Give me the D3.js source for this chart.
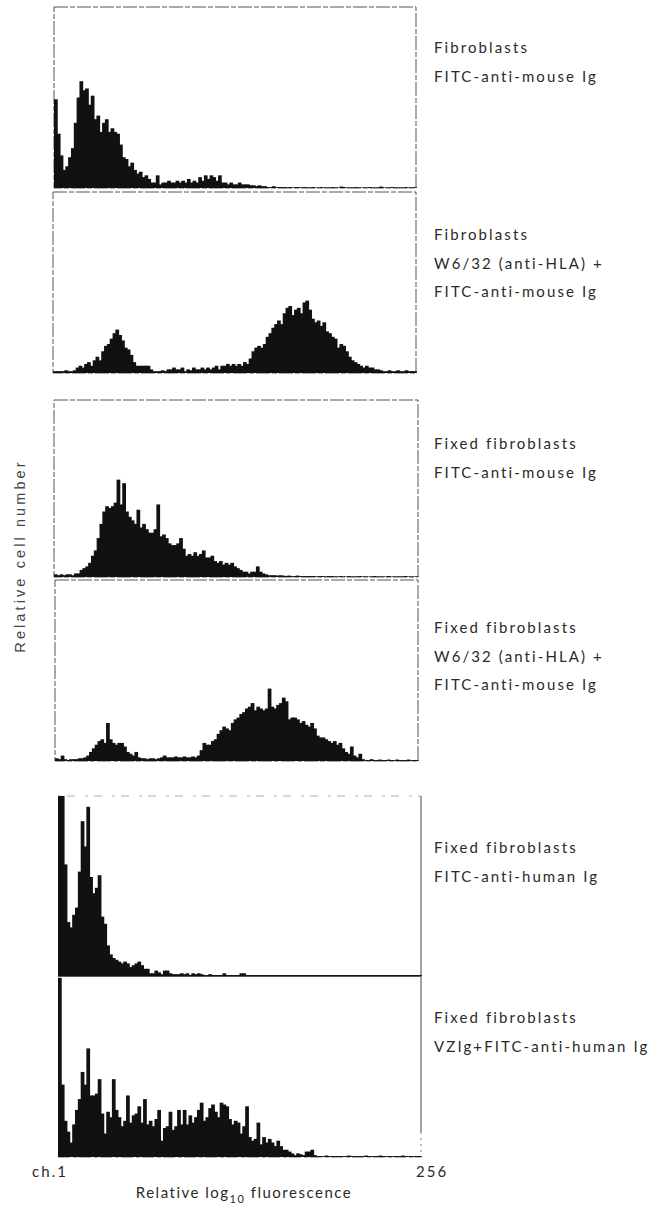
<!DOCTYPE html>
<html>
<head>
<meta charset="utf-8">
<script src="https://cdn.jsdelivr.net/npm/d3@7"></script>
<style>
  body { margin: 0; background: #fff; }
  svg { display: block; }
  .lab { font-family: Lato, 'Open Sans', sans-serif; font-weight: 400; font-size: 15px; letter-spacing: 2.1px; fill: #2a2a2a; }
  .ytitle { font-family: 'Liberation Sans', Arial, sans-serif; font-size: 14.5px; letter-spacing: 3.1px; fill: #444; }
</style>
</head>
<body>
<svg width="663" height="1207"></svg>
<script>
// 128 bins, each bin = 2 channels of the 256 channel analyser
// values are % of full scale of the panel
const fibroCtrl = [
  49,30,18,10,12,17,22,36,50,59, 54,55,46,51,38,40,31,36,38,31,
  33,31,30,24,17,16,12,14,10,8, 9,6,7,5,3,3,7,2,
  3,3,4,3,3,4,3,4,3,5,3,4,3,
  6,4,7,5,7,6,4,7,
  3,3,2,3,2,2,3,2,2,2,
  1.5,1.5,1,1.5,1,1,0.5,0.5,1,0.5,
  0.5,0.5,0.5,0.3,0.5,0.3,0.5,0.5,0.3,0.5, 0.3,0.3,0.5,0.3,0.3,0.5,0.3,0.3,0.3,0.5,
  0.3,0.3,0.8,0.5,0.3,0.3,0.3,0.5,0.3,0.3, 0.3,0.3,0.5,0.3,0.3,0.3,0.8,0.3,0.3,0.3,
  0.5,0.3,0.3,0.3,0.3,0.5,0.3,0.3,0.5
]
const fibroHLA = [
  1,1,1,1,1.5,1,1,1.5,3,4, 3,5,6,4,7,9,7,12,15,16,
  19,22,24,21,18,14,13,10,6,4, 4,4,4,4,2,1,1,1,1.5,1,
  2,2,3,2,2,3,1,2,1.5,3, 2,2,3,2,3,2,3,4,2,4,
  4,5,4,5,4,5,4,6,5,8, 12,14,15,14,16,20,22,25,27,29,
  27,33,36,37,32,35,36,33,39,40, 35,30,28,29,26,28,23,22,20,19,
  14,16,15,12,9,7,6,5,4,3, 4,3,3,2,2,1.5,1,1,1.5,1,
  1,1.5,1,1,1.5,1,1,1
]
const fixedCtrl = [
  1.5,1,1.5,1,1.5,1.5,1,2,2,4, 5,6,8,12,15,22,30,37,40,39,
  40,42,55,41,53,37,34,32,30,38, 28,30,27,25,25,27,41,23,24,22,
  19,18,18,19,22,16,12,13,12,14, 12,13,15,11,11,12,9,8,9,7,
  8,7,8,6,5,4,3,3,2,3, 3,6,3,2,1.5,1,1,1,0.8,1,
  0.8,0.5,0.8,0.5,0.5,0.8,0.5,0.5,0.5,0.5, 0.5,0.5,0.3,0.5,0.5,0.3,0.5,0.5,0.3,0.3,
  0.5,0.3,0.3,0.5,0.3,0.3,0.3,0.5,0.3,0.3, 0.3,0.3,0.5,0.3,0.3,0.3,0.3,0.5,0.3,0.3,
  0.3,0.3,0.3,0.5,0.3,0.3,0.3,0.3
]
const fixedHLA = [
  1.5,1,3,1,0.5,1,1,1,1.5,1.5, 2,3,5,7,9,11,12,10,21,12,
  10,9,10,10,8,5,4,3,5,2, 1.5,1.5,1,1.5,1.5,1,1.5,2,3,2,
  2,2,2.5,2,2,2.5,2,2,2.5,2, 3,6,10,9,9,11,12,15,17,19,
  18,17,21,23,24,26,27,29,30,32, 28,30,29,28,29,40,30,29,31,32,
  35,33,23,24,24,23,21,22,20,19, 21,18,14,13,13,12,11,10,11,9,
  10,7,5,4,8,3,2,4,1,0.5, 0.5,1,0.5,0.5,0.8,0.5,0.5,0.8,0.5,0.5,
  0.8,0.5,0.5,0.5,0.8,0.5,0.5,0.5
]
const fixedHuman = [
  100,100,62,30,27,34,38,58,86,72, 94,55,46,49,56,33,29,17,12,10,
  9,8,7,8,7,5,6,7,8,6, 4,4,1.5,1.5,3,2,1,3,3,1.5,
  1,1,1,1.5,1,1.5,0.5,1.5,1,1.5, 1,0.5,0.5,1,0.5,0.5,0.5,0.5,1.5,0.5,
  0.5,0.5,0.5,0.5,1.5,1.5,0.5,0.5,0.5,0.5, 0.5,0.5,0.5,0.5,0.5,0.5,0.5,0.5,0.5,0.5,
  0.5,0.5,0.5,0.5,0.5,0.5,0.5,0.5,0.5,0.5, 0.5,0.5,0.5,0.5,0.5,0.5,0.5,0.5,0.5,0.5,
  0.5,0.5,0.5,0.5,0.5,0.5,0.5,0.5,0.5,0.5, 0.5,0.5,0.5,0.5,0.5,0.5,0.5,0.5,0.5,0.5,
  0.5,0.5,0.5,0.5,0.5,0.5,0.5,0.5
]
const fixedVZIg = [
  99,40,20,14,8,18,26,32,47,40, 60,34,34,35,43,24,13,25,22,43,
  26,22,17,20,34,19,23,24,28,19, 32,18,20,17,21,26,9,16,17,25,
  15,17,26,18,26,18,23,19,22,26, 30,20,22,27,29,25,22,30,29,28,
  21,18,20,19,13,17,28,11,9,10, 19,7,11,8,10,8,6,9,6,4,
  4,3,2,1,2,1.5,1,3,3,4, 1,0.5,0.5,0.5,0.8,0.5,0.5,0.5,0.5,0.5,
  0.5,0.5,0.8,0.5,0.5,0.5,0.5,0.5,0.8,0.5, 0.5,0.5,0.5,0.8,0.5,0.5,0.5,0.5,0.5,0.5,
  0.5,0.8,0.5,0.5,0.5,0.5,0.5,0.5
]

// panel captions
const captions = [
  ['Fibroblasts', 'FITC-anti-mouse Ig'],
  ['Fibroblasts', 'W6/32 (anti-HLA) +', 'FITC-anti-mouse Ig'],
  ['Fixed fibroblasts', 'FITC-anti-mouse Ig'],
  ['Fixed fibroblasts', 'W6/32 (anti-HLA) +', 'FITC-anti-mouse Ig'],
  ['Fixed fibroblasts', 'FITC-anti-human Ig'],
  ['Fixed fibroblasts', 'VZIg+FITC-anti-human Ig']
]
const xTickLabels = ['ch.1', '256']
const xTitle = ['Relative log', '10', ' fluorescence']
const yTitle = 'Relative cell number'

const series = [fibroCtrl, fibroHLA, fixedCtrl, fixedHLA, fixedHuman, fixedVZIg]

// layout of each panel: left, right, top, bottom, first caption baseline
const layout = [
  { x0: 54, x1: 416, y0: 7, y1: 188, cap: 53, frame: 'box' },
  { x0: 53, x1: 416, y0: 192, y1: 373, cap: 240, frame: 'box' },
  { x0: 54, x1: 418, y0: 400, y1: 577, cap: 449, frame: 'box' },
  { x0: 55, x1: 418, y0: 580, y1: 761, cap: 633, frame: 'box' },
  { x0: 58, x1: 421, y0: 796, y1: 976, cap: 853, frame: 'top' },
  { x0: 58, x1: 421, y0: 976, y1: 1157, cap: 1023, frame: 'bottom' }
]

const svg = d3.select('svg')
const bins = d3.range(128)

layout.forEach(function (p, i) {
  const data = series[i]
  const x = d3.scaleBand().domain(bins).range([p.x0, p.x1]).padding(0)
  const y = d3.scaleLinear().domain([0, 100]).range([p.y1, p.y0])
  const g = svg.append('g')

  // frame
  if (p.frame === 'box') {
    g.append('rect')
      .attr('x', p.x0).attr('y', p.y0)
      .attr('width', p.x1 - p.x0).attr('height', p.y1 - p.y0)
      .attr('fill', 'none').attr('stroke', '#555').attr('stroke-width', 1)
      .attr('stroke-dasharray', '14,2,5,2')
  } else {
    g.append('line')
      .attr('x1', p.x1).attr('x2', p.x1).attr('y1', p.y0).attr('y2', p.frame === 'bottom' ? p.y1 - 25 : p.y1)
      .attr('stroke', '#444').attr('stroke-width', 1)
    if (p.frame === 'top') {
      g.append('line')
        .attr('x1', p.x0).attr('x2', p.x1).attr('y1', p.y0).attr('y2', p.y0)
        .attr('stroke', '#999').attr('stroke-width', 0.8).attr('stroke-dasharray', '3,6,8,10')
      g.append('line')
        .attr('x1', p.x0).attr('x2', p.x1).attr('y1', p.y1).attr('y2', p.y1)
        .attr('stroke', '#222').attr('stroke-width', 1.5)
    } else {
      g.append('line')
        .attr('x1', p.x1).attr('x2', p.x1).attr('y1', p.y1 - 25).attr('y2', p.y1)
        .attr('stroke', '#777').attr('stroke-width', 1).attr('stroke-dasharray', '2,4')
      g.append('line')
        .attr('x1', p.x0).attr('x2', p.x1).attr('y1', p.y1).attr('y2', p.y1)
        .attr('stroke', '#666').attr('stroke-width', 1).attr('stroke-dasharray', '12,3,4,2')
    }
  }

  // histogram bars, slightly overlapped so they read as one solid mass
  g.selectAll('rect.bar')
    .data(data)
    .enter().append('rect')
      .attr('class', 'bar')
      .attr('x', function (d, j) { return x(j) })
      .attr('width', x.bandwidth() + 0.9)
      .attr('y', function (d) { return y(d) })
      .attr('height', function (d) { return p.y1 - y(d) })
      .attr('fill', '#111')

  // captions to the right
  g.selectAll('text.lab')
    .data(captions[i])
    .enter().append('text')
      .attr('class', 'lab')
      .attr('x', 434)
      .attr('y', function (d, j) { return p.cap + j * 28.5 })
      .text(function (d) { return d })
})

// axis labels
svg.append('text').attr('class', 'lab')
  .attr('x', 32).attr('y', 1177).text(xTickLabels[0])
svg.append('text').attr('class', 'lab')
  .attr('x', 416).attr('y', 1177).text(xTickLabels[1])

const xt = svg.append('text').attr('class', 'lab')
  .attr('x', 244).attr('y', 1198).attr('text-anchor', 'middle')
  .style('letter-spacing', '1.5px')
xt.append('tspan').text(xTitle[0])
xt.append('tspan').attr('dy', 5).style('font-size', '11px').text(xTitle[1])
xt.append('tspan').attr('dy', -5).text(xTitle[2])

svg.append('text').attr('class', 'ytitle')
  .attr('transform', 'translate(25,556) rotate(-90)')
  .attr('text-anchor', 'middle')
  .text(yTitle)
</script>
</body>
</html>
